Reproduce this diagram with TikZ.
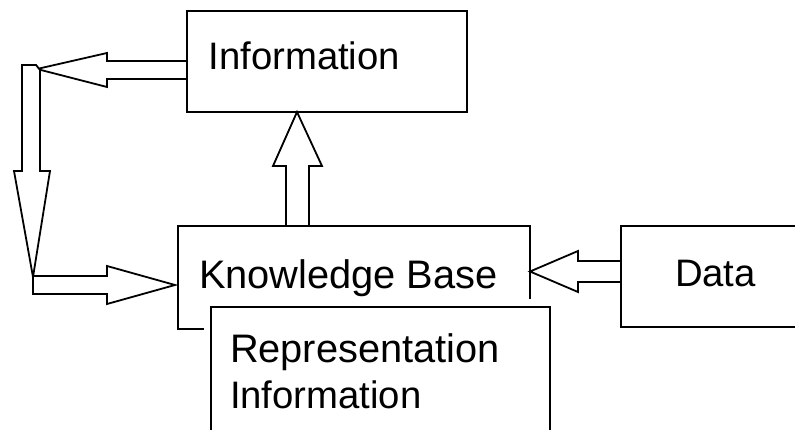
\documentclass[tikz,border=0pt]{standalone}
\usepackage{fontspec}
\setmainfont{Liberation Sans}
\usetikzlibrary{calc}
\begin{document}
\begin{tikzpicture}[x=1pt,y=-1pt,
  box/.style={draw, line width=1.8pt, fill=white, rectangle, inner sep=0pt,
    outer sep=0pt, anchor=north west},
  blockarrow/.style={draw, fill=white, line width=1.8pt, line join=miter},
  lbl/.style={anchor=base west, inner sep=0pt, outer sep=0pt,
    font=\fontsize{38.3}{46}\selectfont},
  widelbl/.style={lbl, font=\fontsize{39.8}{46}\selectfont}]
\clip (0,0) rectangle (795,430);
\fill[white] (0,0) rectangle (795,430);

% boxes
\node[box, minimum width=352pt, minimum height=103pt] (kb) at (178,226) {};
\node[box, minimum width=339pt, minimum height=150pt,
  preaction={draw=white, line width=15pt}] (rep) at (211,307) {};
\node[box, minimum width=280pt, minimum height=101pt] (info) at (187,11) {};
\node[box, minimum width=200pt, minimum height=101pt] (data) at (621,226) {};

% labels
\node[lbl] (infotext) at (208.5,69.5) {Information};
\node[widelbl] (kbtext) at (199,289) {Knowledge Base};
\node[lbl] (datatext) at (675,287) {Data};
\node[widelbl] (reptext1) at (230,362) {Representation};
\node[lbl] (reptext2) at (230,408) {Information};

% knowledge base -> information
\draw[blockarrow] (286,0 |- kb.north) -- (286,166) -- (273,166)
  -- (297,0 |- info.south) -- (322,166) -- (309,166)
  -- (309,0 |- kb.north) -- cycle;

% data -> knowledge base
\draw[blockarrow] (data.west |- 0,261) -- (578,261) -- (578,251)
  -- (kb.east |- 0,271.5) -- (578,292) -- (578,282)
  -- (data.west |- 0,282) -- cycle;

% information -> left bend
\coordinate (bend) at (37,69);
\draw[blockarrow] (info.west |- 0,61) -- (107,61) -- (107,53) -- (bend)
  -- (107,87) -- (107,79) -- (info.west |- 0,79) -- cycle;

% bend -> down
\coordinate (turn) at (33,277);
\draw[blockarrow] (40,70) -- (40,171) -- (50,171) -- (turn) -- (14,171)
  -- (22,171) -- (22,65) -- (36,65) -- cycle;

% down -> knowledge base
\draw[blockarrow] (turn |- 0,276) -- (107,276) -- (107,266)
  -- ($(kb.west |- 0,285)+(-3,0)$) -- (107,304) -- (107,294)
  -- (turn |- 0,294) -- cycle;
\end{tikzpicture}
\end{document}
